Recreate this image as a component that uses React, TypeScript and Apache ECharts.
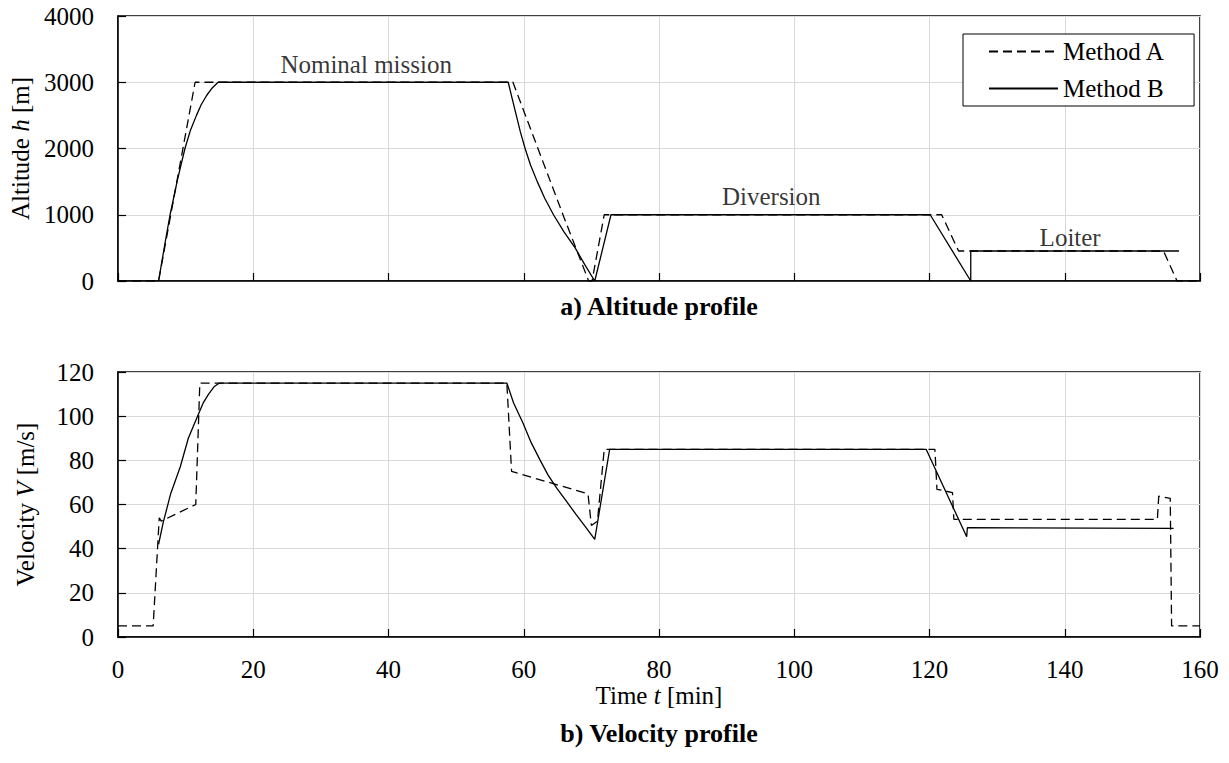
import React, { useEffect, useRef } from "react";
import * as echarts from "echarts";

const FONT = "Liberation Serif";

// Altitude profile, Method A (dashed)
const altATime = [0, 6.0, 11.4, 58.4, 62.1, 65.8, 69.6, 70.1, 71.9, 121.8, 124.3, 154.6, 156.6, 160];
const altAValue = [0, 0, 3000, 3000, 2000, 1000, 0, 0, 1000, 1000, 453, 453, 0, 0];

// Altitude profile, Method B (solid)
const altBTime = [6.0, 7.0, 7.7, 8.8, 9.9, 10.7, 11.6, 12.3, 13.1, 13.9, 14.8, 57.7, 58.3, 58.9, 59.5, 60.2, 61.0, 62.0, 63.1, 64.4, 65.9, 67.6, 69.0, 70.5, 72.9, 120.1, 126.1, 126.1, 156.9];
const altBValue = [0, 600, 1000, 1530, 2000, 2270, 2500, 2660, 2800, 2910, 3000, 3000, 2750, 2500, 2250, 2000, 1750, 1500, 1250, 1000, 750, 500, 250, 0, 1000, 1000, 0, 453, 453];

// Velocity profile, Method A (dashed)
const velATime = [0, 5.2, 6.1, 6.4, 11.5, 12.1, 57.5, 58.2, 69.5, 70.0, 70.9, 71.9, 120.8, 121.1, 123.4, 123.6, 153.7, 153.9, 155.6, 155.8, 160];
const velAValue = [5, 5, 54, 52.5, 60, 115, 115, 75, 64.8, 50.5, 52.5, 85, 85, 66.9, 65.4, 53.3, 53.3, 63.8, 62.8, 5, 5];

// Velocity profile, Method B (solid)
const velBTime = [6.0, 6.7, 7.8, 9.2, 10.4, 11.9, 12.6, 13.4, 14.2, 15.0, 57.5, 58.5, 59.9, 61.1, 62.4, 63.6, 64.9, 66.3, 67.7, 69.1, 70.5, 72.7, 119.5, 125.5, 125.6, 156.1];
const velBValue = [42, 52, 65, 77, 90, 101, 106, 110, 113.3, 115, 115, 106, 96.8, 88, 80.2, 73.3, 67.3, 61.5, 55.6, 50, 44.2, 85, 85, 45.4, 49.5, 49.2];

// Phase annotations on the altitude profile
const phaseLabels = ["Nominal mission", "Diversion", "Loiter"];
const phaseTimes = [36.7, 96.6, 140.8];
const phaseAltitudes = [3275, 1270, 660];

const seriesNames = ["Method A", "Method B"];
const timeTicks = { min: 0, max: 160, interval: 20 };

const zip = (xs: number[], ys: number[]) => xs.map((x, i) => [x, ys[i]]);

export default function App() {
  const ref = useRef<HTMLDivElement>(null);

  useEffect(() => {
    if (!ref.current) return;
    const chart = echarts.init(ref.current, undefined, { renderer: "svg" });

    const axisLine = { show: true, lineStyle: { color: "#000", width: 1.5 } };
    const axisTick = { show: true, inside: true, length: 8, lineStyle: { color: "#000", width: 1.2 } };
    const splitLine = { show: true, lineStyle: { color: "#d9d9d9", width: 1 } };
    const labelStyle = { color: "#000", fontFamily: FONT, fontSize: 25, formatter: (v: number) => String(v) };
    const nameStyle = {
      color: "#000",
      fontFamily: FONT,
      fontSize: 25,
      rich: { i: { fontStyle: "italic", fontFamily: FONT, fontSize: 25, color: "#000" } },
    };
    const dashed = { color: "#000", width: 1.3, type: [9, 5] as any };
    const solid = { color: "#000", width: 1.3, type: "solid" as any };

    const option: any = {
      animation: false,
      backgroundColor: "#fff",
      textStyle: { fontFamily: FONT },
      grid: [
        { left: 118, top: 16, width: 1082, height: 265, show: true, borderColor: "#000", borderWidth: 1.5, backgroundColor: "transparent" },
        { left: 118, top: 372, width: 1082, height: 265, show: true, borderColor: "#000", borderWidth: 1.5, backgroundColor: "transparent" },
      ],
      legend: {
        data: seriesNames,
        orient: "vertical",
        left: 963,
        top: 34,
        itemWidth: 69,
        itemHeight: 14,
        itemGap: 12,
        padding: [5, 29, 5, 25],
        borderColor: "#000",
        borderWidth: 1,
        borderRadius: 0,
        backgroundColor: "#fff",
        selectedMode: false,
        itemStyle: { opacity: 0 },
        textStyle: { color: "#000", fontFamily: FONT, fontSize: 25 },
      },
      xAxis: [
        {
          type: "value", gridIndex: 0, ...timeTicks,
          axisLine, axisTick, splitLine,
          axisLabel: { show: false },
        },
        {
          type: "value", gridIndex: 1, ...timeTicks,
          axisLine, axisTick, splitLine,
          axisLabel: { ...labelStyle, margin: 20 },
          name: "Time {i|t} [min]",
          nameLocation: "middle",
          nameGap: 46,
          nameTextStyle: nameStyle,
        },
      ],
      yAxis: [
        {
          type: "value", gridIndex: 0, min: 0, max: 4000, interval: 1000,
          axisLine, axisTick, splitLine,
          axisLabel: { ...labelStyle, margin: 24 },
          name: "Altitude {i|h} [m]",
          nameLocation: "middle",
          nameGap: 80,
          nameTextStyle: nameStyle,
        },
        {
          type: "value", gridIndex: 1, min: 0, max: 120, interval: 20,
          axisLine, axisTick, splitLine,
          axisLabel: { ...labelStyle, margin: 24 },
          name: "Velocity {i|V} [m/s]",
          nameLocation: "middle",
          nameGap: 80,
          nameTextStyle: nameStyle,
        },
      ],
      series: [
        { name: seriesNames[0], type: "line", xAxisIndex: 0, yAxisIndex: 0, data: zip(altATime, altAValue), symbol: "none", lineStyle: dashed, itemStyle: { color: "#000" }, z: 3 },
        { name: seriesNames[1], type: "line", xAxisIndex: 0, yAxisIndex: 0, data: zip(altBTime, altBValue), symbol: "none", lineStyle: solid, itemStyle: { color: "#000" }, z: 3 },
        { name: seriesNames[0], type: "line", xAxisIndex: 1, yAxisIndex: 1, data: zip(velATime, velAValue), symbol: "none", lineStyle: dashed, itemStyle: { color: "#000" }, z: 3 },
        { name: seriesNames[1], type: "line", xAxisIndex: 1, yAxisIndex: 1, data: zip(velBTime, velBValue), symbol: "none", lineStyle: solid, itemStyle: { color: "#000" }, z: 3 },
        {
          name: "phases",
          type: "scatter",
          xAxisIndex: 0,
          yAxisIndex: 0,
          symbolSize: 0,
          silent: true,
          data: phaseLabels.map((n, i) => ({ name: n, value: [phaseTimes[i], phaseAltitudes[i]] })),
          label: {
            show: true,
            position: "inside",
            formatter: (p: any) => p.name,
            color: "#000",
            fontFamily: FONT,
            fontSize: 25,
          },
        },
      ],
      graphic: [
        {
          type: "text", x: 659, y: 306,
          style: { text: "a) Altitude profile", fill: "#000", fontFamily: FONT, fontSize: 26, fontWeight: "bold", align: "center", verticalAlign: "middle" },
        },
        {
          type: "text", x: 659, y: 733,
          style: { text: "b) Velocity profile", fill: "#000", fontFamily: FONT, fontSize: 26, fontWeight: "bold", align: "center", verticalAlign: "middle" },
        },
      ],
    };

    chart.setOption(option);
    return () => chart.dispose();
  }, []);

  return (
    <div
      ref={ref}
      style={{ position: "absolute", left: 0, top: 0, width: 1229, height: 763, background: "#fff" }}
    />
  );
}
